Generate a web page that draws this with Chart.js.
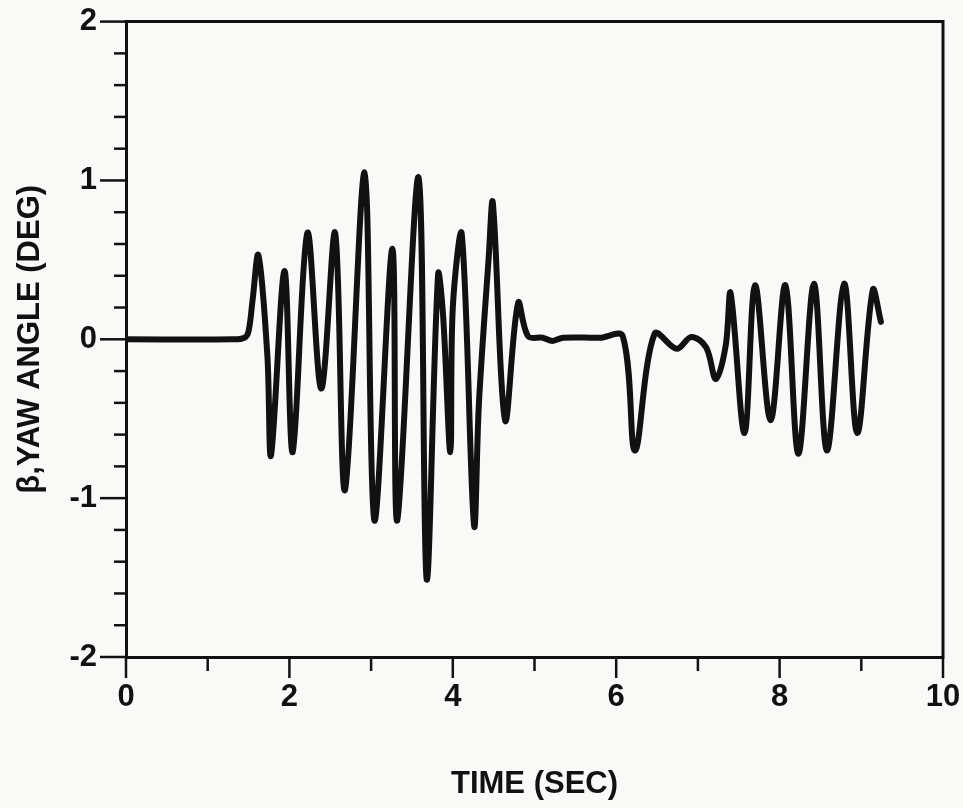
<!DOCTYPE html>
<html>
<head>
<meta charset="utf-8">
<script src="https://cdn.jsdelivr.net/npm/chart.js@4/dist/chart.umd.min.js"></script>
<style>
  html, body { margin: 0; padding: 0; background: #f9f9f8; }
  #wrap { width: 963px; height: 808px; }
</style>
</head>
<body>
<div id="wrap"><canvas id="yaw"></canvas></div>
<script>
// yaw angle trace - time in seconds, beta in degrees
const times = [
  0, 1.30, 1.45, 1.50, 1.55, 1.62, 1.73, 1.775, 1.94, 2.04,
  2.22, 2.39, 2.56, 2.68, 2.92, 3.04, 3.26, 3.32, 3.58, 3.68,
  3.82, 3.88, 3.97, 4.00, 4.11, 4.26, 4.32, 4.44, 4.49, 4.64,
  4.80, 4.92, 5.10, 5.22, 5.35, 5.80, 6.08, 6.23, 6.47, 6.74,
  6.92, 7.10, 7.22, 7.34, 7.40, 7.57, 7.70, 7.89, 8.07, 8.23,
  8.42, 8.58, 8.79, 8.95, 9.14, 9.24
];
const yawDeg = [
  0, 0, 0.01, 0.05, 0.25, 0.53, -0.10, -0.73, 0.43, -0.71,
  0.67, -0.31, 0.67, -0.95, 1.05, -1.14, 0.57, -1.14, 1.02, -1.51,
  0.41, 0.16, -0.71, 0.20, 0.66, -1.17, -0.40, 0.52, 0.86, -0.51,
  0.23, 0.02, 0.01, -0.01, 0.01, 0.01, 0.02, -0.70, 0.035, -0.06,
  0.015, -0.05, -0.25, -0.04, 0.29, -0.59, 0.34, -0.51, 0.34, -0.72,
  0.35, -0.70, 0.35, -0.59, 0.31, 0.11
];
const xTickLabels = [0, 2, 4, 6, 8, 10];
const yTickLabels = [-2, -1, 0, 1, 2];

const INK = "#111";
const FONT = "'Liberation Sans', Arial, Helvetica, sans-serif";
const isLabelled = (list, v) => list.some((l) => Math.abs(l - v) < 1e-6);

// ticks stick out of the box, long at labelled values, short otherwise
const frameTicks = {
  id: "frameTicks",
  afterDraw(chart) {
    const { ctx, chartArea: a, scales } = chart;
    ctx.save();
    ctx.strokeStyle = INK;
    ctx.lineWidth = 3;
    ctx.lineCap = "square";
    ctx.beginPath();
    ctx.moveTo(a.left, a.top);
    ctx.lineTo(a.right, a.top);
    ctx.lineTo(a.right, a.bottom);
    ctx.stroke();

    ctx.lineWidth = 2.5;
    ctx.lineCap = "butt";
    scales.y.ticks.forEach((t) => {
      const py = scales.y.getPixelForValue(t.value);
      const len = isLabelled(yTickLabels, t.value) ? 26 : 12;
      ctx.beginPath();
      ctx.moveTo(a.left, py);
      ctx.lineTo(a.left - len, py);
      ctx.stroke();
    });
    scales.x.ticks.forEach((t) => {
      const px = scales.x.getPixelForValue(t.value);
      const len = isLabelled(xTickLabels, t.value) ? 21 : 14;
      ctx.beginPath();
      ctx.moveTo(px, a.bottom);
      ctx.lineTo(px, a.bottom + len);
      ctx.stroke();
    });
    ctx.restore();
  },
};

new Chart(document.getElementById("yaw"), {
  type: "line",
  data: {
    datasets: [{
      data: times.map((t, i) => ({ x: t, y: yawDeg[i] })),
      borderColor: INK,
      borderWidth: 6,
      borderJoinStyle: "round",
      borderCapStyle: "round",
      pointRadius: 0,
      tension: 0.35,
      fill: false,
    }],
  },
  options: {
    responsive: true,
    maintainAspectRatio: false,
    animation: false,
    layout: { padding: { left: 10, top: 21, right: 20, bottom: 0 } },
    plugins: { legend: { display: false }, tooltip: { enabled: false } },
    scales: {
      x: {
        type: "linear",
        min: 0,
        max: 10,
        afterFit: (s) => { s.height = 151; },
        border: { display: true, color: INK, width: 3 },
        grid: { drawOnChartArea: false, tickLength: 21, tickColor: "transparent" },
        ticks: {
          stepSize: 1,
          autoSkip: false,
          color: INK,
          padding: 1,
          maxRotation: 0,
          font: { family: FONT, size: 31, weight: "bold" },
          callback: (v) => (isLabelled(xTickLabels, v) ? String(Math.round(v)) : ""),
        },
        title: {
          display: true,
          text: "TIME (SEC)",
          color: INK,
          padding: { top: 0, bottom: 5 },
          font: { family: FONT, size: 31, weight: "bold" },
        },
      },
      y: {
        min: -2,
        max: 2,
        afterFit: (s) => { s.width = 116; },
        border: { display: true, color: INK, width: 3 },
        grid: { drawOnChartArea: false, tickLength: 26, tickColor: "transparent" },
        ticks: {
          stepSize: 0.2,
          autoSkip: false,
          color: INK,
          padding: 3,
          font: { family: FONT, size: 31, weight: "bold" },
          callback: (v) => (isLabelled(yTickLabels, v) ? String(Math.round(v)) : ""),
        },
        title: {
          display: true,
          text: "β,YAW ANGLE (DEG)",
          color: INK,
          padding: { top: 2, bottom: 0 },
          font: { family: FONT, size: 31, weight: "bold" },
        },
      },
    },
  },
  plugins: [frameTicks],
});
</script>
</body>
</html>
